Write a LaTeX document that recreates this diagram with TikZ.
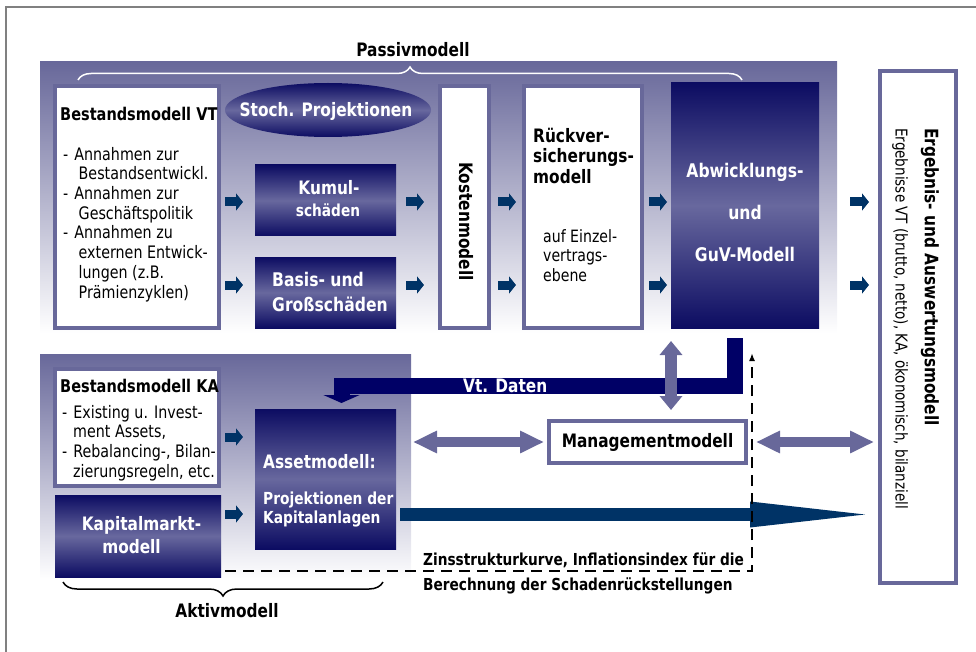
\documentclass[tikz,border=0pt]{standalone}
\usepackage{fontspec}
\setmainfont{DejaVu Sans}[FakeStretch=0.83]
\usetikzlibrary{arrows.meta,shapes.geometric,decorations.pathreplacing}

\definecolor{lila}{RGB}{104,104,154}
\definecolor{nachtblau}{RGB}{0,0,102}
\definecolor{tiefblau}{RGB}{12,12,98}
\definecolor{mittelblau}{RGB}{104,104,158}
\definecolor{pfeilblau}{RGB}{0,51,102}

\newcommand{\strich}{-\hspace*{6pt}}
\newcommand{\weiter}[1][15.5pt]{\hspace*{#1}}
\newcommand{\schrift}[2]{\fontsize{#1}{#2}\selectfont}

\tikzset{
	hgrund/.style={top color=lila, bottom color=white, inner sep=0pt, outer sep=0pt},
	rahmen/.style={draw=lila, line width=4pt, fill=white, inner sep=0pt, outer sep=0pt},
	verlauf/.style={top color=tiefblau, bottom color=tiefblau, middle color=mittelblau, inner sep=0pt, outer sep=0pt},
	blockpfeil/.style={pfeilblau, line width=9pt, -{Triangle[length=7pt,width=17pt]}},
	doppelpfeil/.style={lila, line width=10pt, {Triangle[length=24pt,width=21pt]}-{Triangle[length=24pt,width=21pt]}},
	titel/.style={font=\schrift{18.5}{22}\bfseries, inner sep=0pt},
	kopf/.style={font=\schrift{17.5}{20.5}\bfseries, inner sep=0pt},
	unter/.style={font=\schrift{16.5}{25}\bfseries, inner sep=0pt},
	fliess/.style={font=\schrift{17.2}{19.7}, inner sep=0pt, align=left},
}

\begin{document}
\begin{tikzpicture}[x=1pt, y=-1pt]
	\useasboundingbox (0,0) rectangle (976,652);
	\draw[gray, line width=1.5pt] (6,652) -- (6,7) -- (976,7);

	\node[hgrund, minimum width=797pt, minimum height=271pt] (passiv) at (438.5,197.5) {};
	\node[hgrund, minimum width=371pt, minimum height=226pt] (aktiv) at (225.5,467) {};
	\draw[white, line width=1.5pt, decorate, decoration={brace, amplitude=13pt}] (78,80) -- (742,80);
	\node[titel, anchor=base] (passivtitel) at (413,57) {Passivmodell};

	\node[rahmen, minimum width=164pt, minimum height=242pt] (vt) at (137,207) {};
	\node[verlauf, ellipse, minimum width=206pt, minimum height=54pt] (stoch) at (328,110) {};
	\node[verlauf, minimum width=141pt, minimum height=71pt] (kumul) at (325.5,200.5) {};
	\node[verlauf, minimum width=141pt, minimum height=71pt] (basis) at (325.5,292.5) {};
	\node[rahmen, minimum width=49pt, minimum height=242pt] (kosten) at (464.5,207) {};
	\node[rahmen, minimum width=118pt, minimum height=242pt] (rueck) at (583,207) {};
	\node[verlauf, minimum width=148pt, minimum height=245pt] (abw) at (745,205.5) {};
	\node[rahmen, minimum width=76pt, minimum height=512pt] (ergebnis) at (918,327) {};
	\node[rahmen, minimum width=164pt, minimum height=117pt] (ka) at (137,427.5) {};
	\node[verlauf, minimum width=166pt, minimum height=82pt] (kapital) at (138,536) {};
	\node[verlauf, minimum width=141pt, minimum height=140pt] (asset) at (325.5,479) {};
	\node[rahmen, minimum width=197pt, minimum height=42pt, titel] (mgmt) at (647.5,442) {Managementmodell};

	\coordinate (reihe1) at (0,202);
	\coordinate (reihe2) at (0,285);
	\coordinate (reihe3) at (0,437);
	\coordinate (reihe4) at (0,514);
	\coordinate (reihe5) at (0,514.5);
	\coordinate (reihe6) at (0,571);
	\coordinate (mitte) at (671,0);
	\coordinate (zinsziel) at (752,353);

	\foreach \r/\m in {reihe1/kumul, reihe2/basis}
		\foreach \von/\nach/\s/\e in {vt/\m/6pt/12pt, \m/kosten/10pt/16pt, kosten/rueck/9pt/8pt, rueck/abw/7pt/4pt, abw/ergebnis/31pt/11pt}
			\draw[blockpfeil, shorten <=\s, shorten >=\e] (\von.east |- \r) -- (\nach.west |- \r);
	\draw[blockpfeil, shorten <=6pt, shorten >=12pt] (ka.east |- reihe3) -- (asset.west |- reihe3);
	\draw[blockpfeil, shorten <=4pt, shorten >=12pt] (kapital.east |- reihe4) -- (asset.west |- reihe4);

	\draw[nachtblau, line width=16pt, -{Triangle[length=8pt,width=36pt]}, shorten <=10pt, shorten >=6pt]
		([xshift=-10pt]abw.south) -- ++(0,57.5) -| ([xshift=16pt]asset.north);
	\draw[lila, line width=12pt, {Triangle[length=14pt,width=22pt]}-{Triangle[length=14pt,width=22pt]}, shorten <=13pt, shorten >=11pt]
		(mitte |- abw.south) -- (mitte |- mgmt.north);
	\draw[doppelpfeil, shorten <=17pt, shorten >=5pt] (asset.east |- mgmt.west) -- (mgmt.west);
	\draw[doppelpfeil, shorten <=10pt, shorten >=6pt] (mgmt.east) -- (ergebnis.west |- mgmt.east);
	\draw[pfeilblau, line width=13pt, -{Triangle[length=115pt,width=26pt,line width=0pt]}, shorten <=4pt, shorten >=15pt]
		(asset.east |- reihe5) -- (ergebnis.west |- reihe5);
	\draw[line width=2pt, dash pattern=on 11pt off 7pt, -{Latex[length=8pt,width=6pt]}, shorten <=4pt]
		(kapital.east |- reihe6) -| (zinsziel);

	\node[titel, text=white, anchor=base] (stochtext) at (326,117) {Stoch. Projektionen};
	\node[kopf, anchor=base west] (vttitel) at (60,121) {Bestandsmodell VT};
	\node[fliess, anchor=north west] (vtliste) at (63,146.9) {\strich Annahmen zur\\\weiter Bestandsentwickl.\\\strich Annahmen zur\\\weiter Geschäftspolitik\\\strich Annahmen zu\\\weiter externen Entwick-\\\weiter lungen (z.B.\\\weiter Prämienzyklen)};
	\node[titel, text=white, anchor=base] (kumul1) at (329,195) {Kumul-};
	\node[unter, text=white, anchor=base] (kumul2) at (328,217) {schäden};
	\node[titel, text=white, anchor=north west, align=left, font=\schrift{18.8}{25}\bfseries] (basistext) at (272,271.7) {Basis- und\\Großschäden};
	\node[titel, rotate=-90] (kostentext) at (466,221.5) {Kostenmodell};
	\node[titel, font=\schrift{18.5}{20.5}\bfseries, align=left, anchor=north west] (ruecktext) at (533,127.9) {Rückver-\\sicherungs-\\modell};
	\node[fliess, font=\schrift{17}{19.5}, anchor=north west] (einzel) at (543,229) {auf Einzel-\\vertrags-\\ebene};
	\node[titel, text=white, align=center, font=\schrift{18.8}{42}\bfseries, anchor=north] (abwtext) at (745,162.7) {Abwicklungs-\\und\\GuV-Modell};
	\node[titel, rotate=-90, anchor=west] (ergtitel) at (930,128) {Ergebnis- und Auswertungsmodell};
	\node[fliess, rotate=-90, anchor=west, font=\schrift{16.3}{18}] (ergtext) at (900,128) {Ergebnisse VT (brutto, netto), KA, ökonomisch, bilanziell};

	\node[kopf, anchor=base west] (katitel) at (60,392) {Bestandsmodell KA};
	\node[fliess, anchor=north west] (kaliste) at (62,404.9) {\strich Existing u. Invest-\\\weiter[11pt]ment Assets,\\\strich Rebalancing-, Bilan-\\\weiter[11pt]zierungsregeln, etc.};
	\node[titel, text=white, anchor=base] (kap1) at (141.5,530) {Kapitalmarkt-};
	\node[titel, text=white, anchor=base] (kap2) at (131.5,553) {modell};
	\node[titel, text=white, anchor=base west] (assettitel) at (263,468) {Assetmodell:};
	\node[unter, text=white, align=left, anchor=north west, font=\schrift{16.6}{19}\bfseries] (assettext) at (263,491.4) {Projektionen der\\Kapitalanlagen};
	\node[titel, text=white, anchor=base west] (vtdaten) at (463,392) {Vt. Daten};
	\node[unter, align=left, anchor=north west] (zinstext) at (423,552.8) {Zinsstrukturkurve, Inflationsindex für die\\Berechnung der Schadenrückstellungen};
	\draw[line width=1.5pt, decorate, decoration={brace, amplitude=14pt}] (383,582) -- (63,582);
	\node[titel, anchor=base] (aktivtitel) at (227,617) {Aktivmodell};
\end{tikzpicture}
\end{document}
